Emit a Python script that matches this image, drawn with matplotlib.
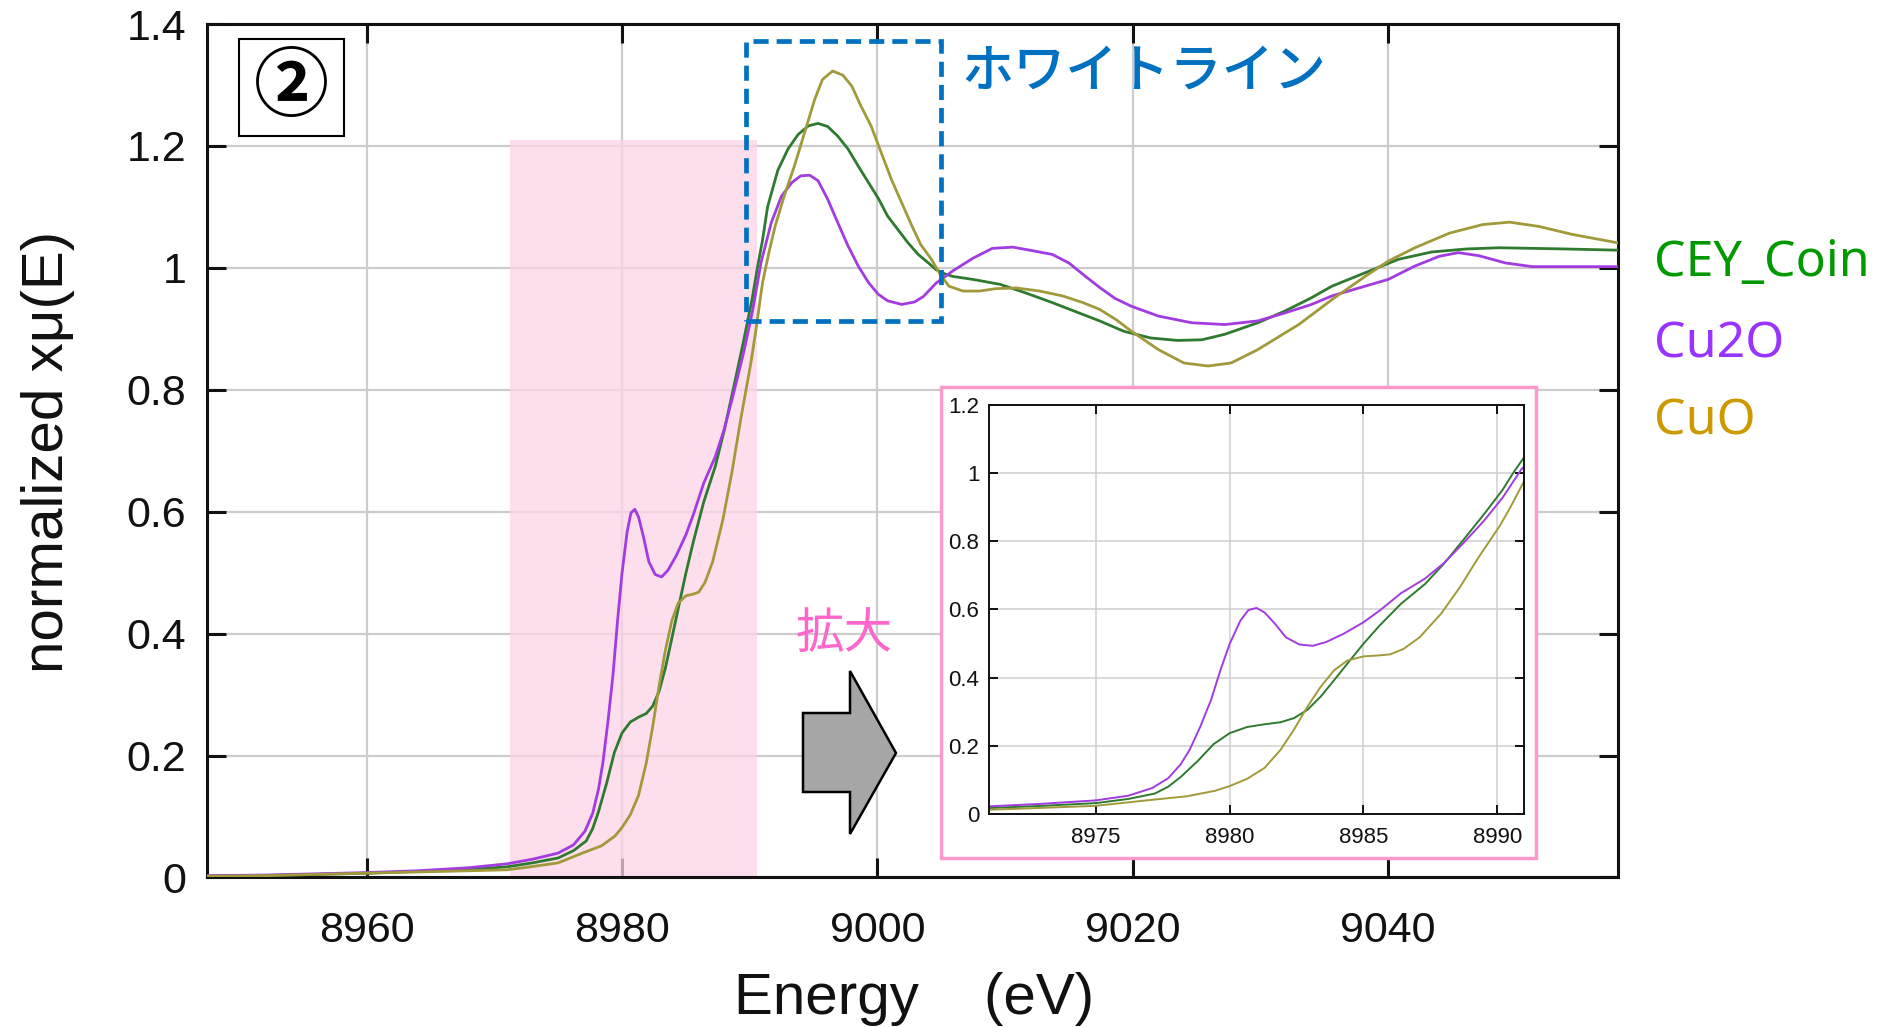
import matplotlib
matplotlib.use("Agg")
import matplotlib.pyplot as plt
from matplotlib.patches import Rectangle, Polygon
from matplotlib.ticker import FuncFormatter

# CEY_Coin (green)
e_coin = [8947.5, 8952, 8956, 8960, 8964, 8968,
          8971.0, 8973.0, 8975.0, 8976.2, 8977.2, 8977.7, 8978.16, 8978.8, 8979.4,
          8980.0, 8980.65, 8981.3, 8981.9, 8982.4, 8982.9, 8983.4, 8983.9, 8984.4,
          8985.0, 8985.6, 8986.4, 8987.3, 8988.0, 8988.7, 8989.5, 8990.2, 8990.6,
          8991.0, 8991.4, 8992.2, 8993.0, 8993.8, 8994.6, 8995.35, 8996.1, 8996.9,
          8997.7, 8998.5, 8999.3, 9000.1, 9000.8, 9001.6, 9002.4, 9003.2, 9004.0,
          9004.6, 9005.3, 9005.9, 9007.5, 9009.6, 9011.6, 9013.7, 9015.8, 9017.4,
          9019.3, 9021.4, 9023.5, 9025.4, 9027.2, 9029.8, 9031.9, 9034.0, 9035.6,
          9038.2, 9040.8, 9043.4, 9046.1, 9048.7, 9051.3, 9053.9, 9058]
mu_coin = [0.002, 0.003, 0.005, 0.007, 0.010, 0.013,
           0.0175, 0.024, 0.032, 0.044, 0.060, 0.080, 0.108, 0.155, 0.205,
           0.237, 0.255, 0.263, 0.269, 0.281, 0.305, 0.344, 0.392, 0.441,
           0.499, 0.552, 0.616, 0.674, 0.733, 0.800, 0.878, 0.950, 1.000,
           1.045, 1.100, 1.160, 1.195, 1.219, 1.233, 1.237, 1.232, 1.216,
           1.195, 1.167, 1.140, 1.113, 1.085, 1.063, 1.041, 1.022, 1.008,
           0.997, 0.990, 0.986, 0.981, 0.973, 0.959, 0.943, 0.926, 0.913,
           0.896, 0.885, 0.881, 0.882, 0.891, 0.910, 0.929, 0.951, 0.970,
           0.992, 1.014, 1.026, 1.031, 1.033, 1.032, 1.031, 1.029]

# Cu2O (purple)
e_cu2o = [8947.5, 8952, 8956, 8960, 8964, 8968,
          8971.0, 8973.0, 8975.0, 8976.2, 8977.1, 8977.7, 8978.16, 8978.5, 8978.9,
          8979.3, 8979.65, 8980.0, 8980.4, 8980.7, 8981.0, 8981.3, 8981.7, 8982.1,
          8982.6, 8983.1, 8983.6, 8984.25, 8985.0, 8985.6, 8986.4, 8987.3, 8988.0,
          8988.7, 8989.5, 8990.2, 8990.9, 8991.7, 8992.5, 8993.3, 8994.0, 8994.7,
          8995.35, 8996.1, 8996.9, 8997.7, 8998.5, 8999.3, 9000.05, 9000.8, 9001.9,
          9002.9, 9003.6, 9004.6, 9005.9, 9007.5, 9009.0, 9010.6, 9012.2, 9013.7,
          9015.0, 9016.3, 9017.4, 9018.6, 9019.9, 9022.0, 9024.6, 9027.2, 9029.8,
          9031.9, 9034.0, 9035.6, 9038.2, 9040.0, 9042.1, 9044.0, 9045.5, 9047.1,
          9049.2, 9051.3, 9053.9, 9058]
mu_cu2o = [0.003, 0.004, 0.006, 0.008, 0.011, 0.016,
           0.0224, 0.030, 0.040, 0.0535, 0.076, 0.105, 0.145, 0.188, 0.256,
           0.334, 0.421, 0.499, 0.567, 0.598, 0.604, 0.591, 0.557, 0.518,
           0.497, 0.493, 0.504, 0.528, 0.562, 0.596, 0.647, 0.690, 0.735,
           0.791, 0.859, 0.927, 1.010, 1.075, 1.118, 1.140, 1.151, 1.152,
           1.143, 1.113, 1.074, 1.036, 1.003, 0.976, 0.957, 0.946, 0.940,
           0.944, 0.953, 0.975, 0.995, 1.016, 1.032, 1.034, 1.028, 1.022,
           1.008, 0.986, 0.968, 0.950, 0.937, 0.921, 0.910, 0.907, 0.913,
           0.926, 0.940, 0.954, 0.970, 0.981, 1.003, 1.019, 1.025, 1.020,
           1.008, 1.002, 1.002, 1.002]

# CuO (olive)
e_cuo = [8947.5, 8952, 8956, 8960, 8964, 8968,
         8971.0, 8973.0, 8975.0, 8976.9, 8978.4, 8979.45, 8980.0, 8980.65, 8981.3,
         8981.9, 8982.4, 8982.9, 8983.4, 8983.9, 8984.4, 8985.0, 8985.6, 8986.0,
         8986.5, 8987.1, 8987.9, 8988.6, 8989.3, 8990.1, 8990.5, 8991.0, 8991.5,
         8992.0, 8992.7, 8993.5, 8994.3, 8995.1, 8995.7, 8996.5, 8997.3, 8998.0,
         8998.7, 8999.5, 9000.3, 9001.1, 9001.9, 9002.7, 9003.4, 9004.2, 9004.9,
         9005.6, 9006.7, 9008.0, 9009.3, 9010.9, 9012.7, 9014.5, 9016.1, 9017.4,
         9018.7, 9019.9, 9022.0, 9024.0, 9025.9, 9027.7, 9029.8, 9031.9, 9033.0,
         9035.6, 9038.2, 9040.0, 9042.1, 9044.8, 9047.4, 9049.5, 9051.8, 9054.4,
         9058]
mu_cuo = [0.002, 0.003, 0.005, 0.007, 0.009, 0.011,
          0.0126, 0.018, 0.024, 0.040, 0.052, 0.068, 0.082, 0.103, 0.135,
          0.188, 0.247, 0.314, 0.373, 0.421, 0.450, 0.462, 0.465, 0.468,
          0.484, 0.518, 0.587, 0.664, 0.752, 0.845, 0.900, 0.975, 1.025,
          1.069, 1.118, 1.167, 1.222, 1.277, 1.309, 1.323, 1.316, 1.298,
          1.266, 1.233, 1.189, 1.145, 1.107, 1.069, 1.038, 1.015, 0.990,
          0.970, 0.962, 0.962, 0.966, 0.967, 0.962, 0.954, 0.943, 0.932,
          0.915, 0.896, 0.866, 0.844, 0.839, 0.844, 0.866, 0.893, 0.907,
          0.948, 0.986, 1.011, 1.033, 1.057, 1.071, 1.075, 1.068, 1.055,
          1.041]

series = [("CEY_Coin", e_coin, mu_coin, "#2e7a2e", "#009900"),
          ("Cu2O", e_cu2o, mu_cu2o, "#a23ce0", "#9933ff"),
          ("CuO", e_cuo, mu_cuo, "#a09a3a", "#cc9900")]

main_xlim = (8947.5, 9058)
main_xticks = [8960, 8980, 9000, 9020, 9040]
main_yticks = [0, 0.2, 0.4, 0.6, 0.8, 1.0, 1.2, 1.4]
zoom_xlim = (8971, 8991)
zoom_xticks = [8975, 8980, 8985, 8990]
zoom_yticks = [0, 0.2, 0.4, 0.6, 0.8, 1.0, 1.2]
shade_x = (8971.2, 8990.6)
shade_top = 1.21
wl_box = (8989.7, 0.913, 9005.0, 1.372)  # x0, y0, x1, y1

tick_font = ["Liberation Sans Narrow", "Liberation Sans", "DejaVu Sans"]
fmt = FuncFormatter(lambda v, p: "%g" % v)

fig = plt.figure(figsize=(18.77, 10.27), dpi=100)

# main axes
ax = fig.add_axes([0.1103, 0.1456, 0.7517, 0.831])
ax.set_axisbelow(True)
ax.grid(True, color="#cccccc", linewidth=1.6)
ax.axvspan(shade_x[0], shade_x[1], ymin=0, ymax=shade_top / 1.4,
           facecolor="#fbd3e7", alpha=0.75, edgecolor="none", zorder=1)
for name, e, mu, lc, tc in series:
    ax.plot(e, mu, color=lc, linewidth=2.0, zorder=3)
ax.set_xlim(*main_xlim)
ax.set_ylim(0, 1.4)
ax.set_xticks(main_xticks)
ax.set_yticks(main_yticks)
ax.yaxis.set_major_formatter(fmt)
ax.tick_params(direction="in", length=14, width=2.2, top=True, right=True,
               labelsize=31, colors="#111111")
ax.tick_params(axis="x", pad=24)
ax.tick_params(axis="y", pad=15)
for lab in ax.get_xticklabels() + ax.get_yticklabels():
    lab.set_family(tick_font)
for s in ax.spines.values():
    s.set_linewidth(2.2)
    s.set_color("#111111")

# white-line box
x0, y0, x1, y1 = wl_box
ax.add_patch(Rectangle((x0, y0), x1 - x0, y1 - y0, fill=False,
                       edgecolor="#0070c0", linewidth=3.4,
                       linestyle=(0, (3.2, 1.7)), zorder=4))

# circled number
fig.patches.append(Rectangle((0.1273, 0.8676), 0.0559, 0.0944,
                             transform=fig.transFigure, facecolor="white",
                             edgecolor="black", linewidth=1.5, zorder=2))
fig.text(0.1553, 0.9148, "②", fontsize=54, fontweight="bold",
         family=["Noto Sans CJK JP", "DejaVu Sans"],
         ha="center", va="center", zorder=3)

fig.text(0.512, 0.930, "ホワイトライン", fontsize=37.5, color="#0070c0",
         fontweight="medium",
         family=["Noto Sans CJK JP", "DejaVu Sans"], ha="left", va="center")

# legend-like labels
for (name, e, mu, lc, tc), yy in zip(series, [0.744, 0.665, 0.590]):
    fig.text(0.8812, yy, name, fontsize=36, color=tc,
             family=["Noto Sans", "DejaVu Sans"], ha="left", va="center")

# axis labels
fig.text(0.0256, 0.56, "normalized xμ(E)", fontsize=42, rotation=90,
         family=["Liberation Sans", "DejaVu Sans"], ha="center", va="center",
         color="#111111")
fig.text(0.487, 0.027, "Energy    (eV)", fontsize=42,
         family=["Liberation Sans", "DejaVu Sans"], ha="center", va="center",
         color="#111111")

# magnify label and arrow
fig.text(0.450, 0.382, "拡大", fontsize=35, color="#ff66cc",
         family=["Noto Sans CJK JP", "DejaVu Sans"], ha="center", va="center")
W, H = 1877.0, 1027.0
arrow_px = [(803, 713), (850, 713), (850, 671), (896, 753), (850, 834),
            (850, 792), (803, 792)]
fig.patches.append(Polygon([(px / W, 1 - py / H) for px, py in arrow_px],
                           closed=True, transform=fig.transFigure,
                           facecolor="#a6a6a6", edgecolor="black",
                           linewidth=1.8, zorder=2))

# inset frame
fig.patches.append(Rectangle((0.5013, 0.1646), 0.3170, 0.4586,
                             transform=fig.transFigure, facecolor="white",
                             edgecolor="#ff99cc", linewidth=2.5, zorder=1))

# inset axes
axi = fig.add_axes([0.5269, 0.2074, 0.2850, 0.3986])
axi.set_zorder(2)
axi.set_axisbelow(True)
axi.grid(True, color="#d0d0d0", linewidth=1.1)
for name, e, mu, lc, tc in series:
    axi.plot(e, mu, color=lc, linewidth=1.4)
axi.set_xlim(*zoom_xlim)
axi.set_ylim(0, 1.2)
axi.set_xticks(zoom_xticks)
axi.set_yticks(zoom_yticks)
axi.yaxis.set_major_formatter(fmt)
axi.tick_params(direction="in", length=6.5, width=1.4, top=True, right=True,
                labelsize=16, colors="#111111")
axi.tick_params(axis="x", pad=9)
axi.tick_params(axis="y", pad=7)
for lab in axi.get_xticklabels() + axi.get_yticklabels():
    lab.set_family(tick_font)
for s in axi.spines.values():
    s.set_linewidth(1.4)
    s.set_color("#111111")

fig.savefig("out.png", dpi=100)
